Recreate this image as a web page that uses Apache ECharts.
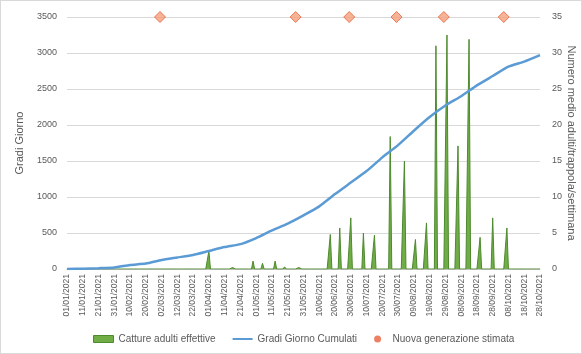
<!DOCTYPE html>
<html>
<head>
<meta charset="utf-8">
<script src="https://cdn.jsdelivr.net/npm/echarts@6/dist/echarts.min.js"></script>
<style>
  html, body { margin: 0; padding: 0; background: #fff; }
  #chart { width: 582px; height: 354px; box-sizing: border-box; border: 1px solid #d9d9d9; }
</style>
</head>
<body>
<div id="chart"></div>
<script>
// Season span (daily categories) and tick labels every 10 days
const seasonStart = '2021-01-01';
const seasonEnd = '2021-10-28';

// Weekly trap captures: mean adults per trap per week
const captureDates = ['01/04/2021','16/04/2021','29/04/2021','05/05/2021','13/05/2021','19/05/2021','28/05/2021',
  '17/06/2021','23/06/2021','30/06/2021','08/07/2021','15/07/2021','25/07/2021','03/08/2021','10/08/2021',
  '17/08/2021','23/08/2021','30/08/2021','06/09/2021','13/09/2021','20/09/2021','28/09/2021','07/10/2021'];
const captureValues = [2.5, 0.2, 1.1, 0.8, 1.1, 0.3, 0.2,
  4.8, 5.7, 7.1, 5.0, 4.7, 18.4, 15.0, 4.1,
  6.4, 31.0, 32.5, 17.1, 31.9, 4.4, 7.1, 5.7];

// Cumulated degree days
const ddDates = ['01/01/2021','11/01/2021','21/01/2021','31/01/2021','10/02/2021','20/02/2021','02/03/2021',
  '12/03/2021','22/03/2021','01/04/2021','11/04/2021','21/04/2021','01/05/2021','11/05/2021','21/05/2021',
  '31/05/2021','10/06/2021','20/06/2021','30/06/2021','10/07/2021','20/07/2021','30/07/2021','09/08/2021',
  '19/08/2021','29/08/2021','08/09/2021','18/09/2021','28/09/2021','08/10/2021','18/10/2021','28/10/2021'];
const ddValues = [0, 5, 12, 22, 55, 75, 125,
  160, 195, 250, 305, 345, 430, 535, 630,
  745, 870, 1040, 1200, 1360, 1550, 1720, 1920,
  2110, 2270, 2400, 2550, 2680, 2810, 2880, 2970];

// Estimated new generations (marked along the top of the plot)
const genDates = ['01/03/2021','26/05/2021','29/06/2021','29/07/2021','28/08/2021','05/10/2021'];
const genValues = [3500, 3500, 3500, 3500, 3500, 3500];

function fmt(d) {
  const dd = String(d.getUTCDate()).padStart(2, '0');
  const mm = String(d.getUTCMonth() + 1).padStart(2, '0');
  return dd + '/' + mm + '/' + d.getUTCFullYear();
}
const categories = [];
for (let t = Date.parse(seasonStart + 'T00:00:00Z'); t <= Date.parse(seasonEnd + 'T00:00:00Z'); t += 86400000) {
  categories.push(fmt(new Date(t)));
}
const idx = {};
categories.forEach((c, i) => { idx[c] = i; });

const captureSeries = categories.map(() => 0);
captureDates.forEach((d, i) => { captureSeries[idx[d]] = captureValues[i]; });

const ddSeries = categories.map(() => null);
ddDates.forEach((d, i) => { ddSeries[idx[d]] = ddValues[i]; });

const genSeries = categories.map(() => null);
genDates.forEach((d, i) => { genSeries[idx[d]] = genValues[i]; });

const txt = '#595959';
const font = 'Liberation Sans, Arial, sans-serif';

const chart = echarts.init(document.getElementById('chart'));
chart.setOption({
  animation: false,
  textStyle: { fontFamily: font, color: txt },
  grid: { left: 66, right: 41, top: 16, bottom: 84, outerBoundsMode: 'none', containLabel: false },
  legend: {
    left: 92,
    top: 333,
    padding: 0,
    itemGap: 17,
    itemWidth: 20,
    itemHeight: 7,
    textStyle: { fontSize: 10, color: txt, fontFamily: font },
    data: [
      { name: 'Catture adulti effettive', icon: 'rect', itemStyle: { color: '#70ad47', borderColor: '#4e8a2e', borderWidth: 1 } },
      { name: 'Gradi Giorno Cumulati', icon: 'path://M0,0 L30,0 L30,3 L0,3 Z', itemStyle: { color: '#5b9bd5' } },
      { name: 'Nuova generazione stimata', icon: 'circle', itemStyle: { color: '#e8603c', borderWidth: 0 } }
    ]
  },
  xAxis: {
    type: 'category',
    data: categories,
    boundaryGap: false,
    axisLine: { lineStyle: { color: '#bfbfbf' } },
    axisTick: { show: false },
    axisLabel: { interval: 9, rotate: 90, fontSize: 8.5, color: txt, margin: 5 }
  },
  yAxis: [
    {
      type: 'value', min: 0, max: 3500, interval: 500,
      name: 'Gradi Giorno', nameLocation: 'middle', nameGap: 42, nameRotate: 90,
      nameMoveOverlap: false,
      nameTextStyle: { fontSize: 11, color: txt },
      axisLine: { show: false }, axisTick: { show: false },
      axisLabel: { fontSize: 9, color: txt, margin: 10, formatter: v => String(v) },
      splitLine: { lineStyle: { color: '#d9d9d9' } }
    },
    {
      type: 'value', min: 0, max: 35, interval: 5,
      name: 'Numero medio adulti/trappola/settimana', nameLocation: 'middle', nameGap: 26, nameRotate: -90,
      nameMoveOverlap: false,
      nameTextStyle: { fontSize: 11, color: txt },
      axisLine: { show: false }, axisTick: { show: false },
      axisLabel: { fontSize: 9, color: txt, margin: 12 },
      splitLine: { show: false }
    }
  ],
  series: [
    {
      name: 'Catture adulti effettive',
      type: 'line',
      yAxisIndex: 1,
      data: captureSeries,
      symbol: 'none',
      lineStyle: { color: '#4e8a2e', width: 1 },
      itemStyle: { color: '#70ad47' },
      areaStyle: { color: '#70ad47', opacity: 1 },
      z: 2
    },
    {
      name: 'Gradi Giorno Cumulati',
      type: 'line',
      yAxisIndex: 0,
      data: ddSeries,
      connectNulls: true,
      symbol: 'none',
      smooth: 0.2,
      lineStyle: { color: '#5b9bd5', width: 2.5 },
      itemStyle: { color: '#5b9bd5' },
      z: 3
    },
    {
      name: 'Nuova generazione stimata',
      type: 'scatter',
      yAxisIndex: 0,
      data: genSeries,
      symbol: 'diamond',
      symbolSize: 11,
      itemStyle: { color: '#f4a07a', borderColor: '#e8603c', borderWidth: 1 },
      z: 4
    }
  ]
});
</script>
</body>
</html>
